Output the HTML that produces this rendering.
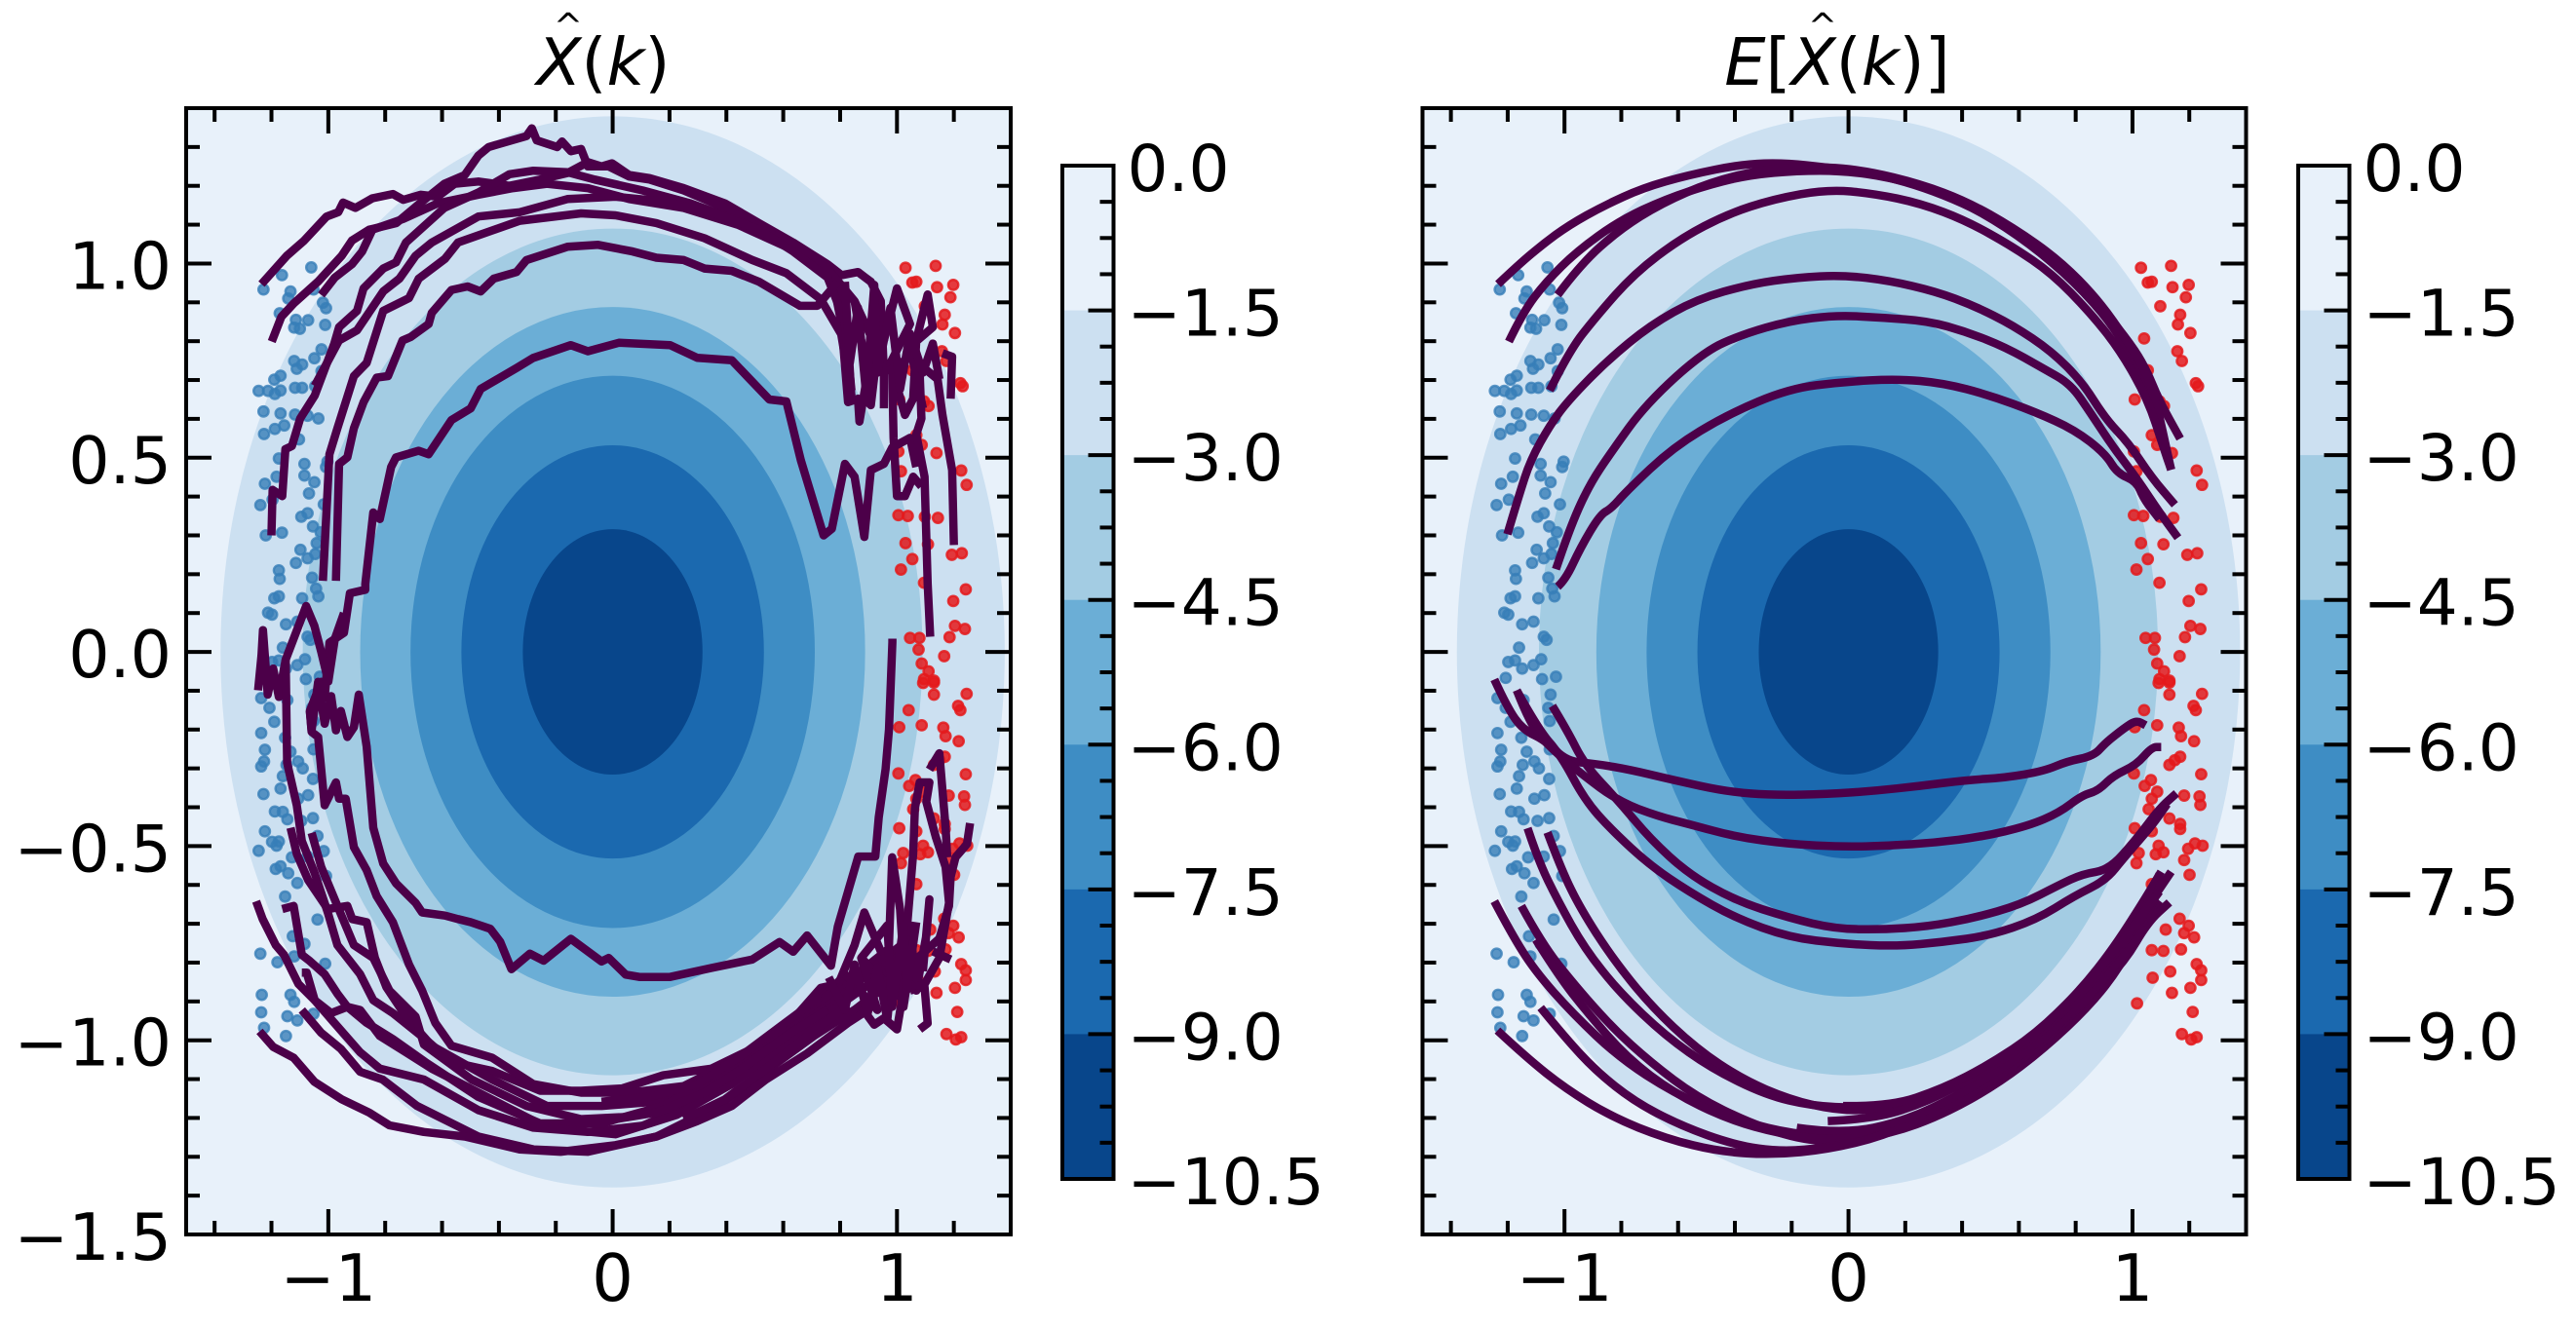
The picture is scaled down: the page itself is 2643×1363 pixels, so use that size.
<!DOCTYPE html>
<html lang="en">
<head>
<meta charset="utf-8">
<title>X̂(k) and E[X̂(k)] contour panels</title>
<style>
html,body{margin:0;padding:0;background:#fff;}
svg{display:block;}
text{font-family:"DejaVu Sans","Liberation Sans",sans-serif;fill:#000;}
</style>
</head>
<body>
<svg id="chart" xmlns="http://www.w3.org/2000/svg" width="2643" height="1363" viewBox="0 0 2643 1363">
  <rect x="0" y="0" width="2643" height="1363" fill="#fff"/>
  <g id="panel-left"></g>
  <g id="panel-right"></g>
  <text x="619" y="87" font-size="67" text-anchor="middle"><tspan font-style="italic">X</tspan>(<tspan font-style="italic">k</tspan>)</text>
  <text x="583" y="39" font-size="36" text-anchor="middle">^</text>
  <text x="1885" y="87" font-size="67" text-anchor="middle"><tspan font-style="italic">E</tspan>[<tspan font-style="italic">X</tspan>(<tspan font-style="italic">k</tspan>)]</text>
  <text x="1870" y="39" font-size="36" text-anchor="middle">^</text>
</svg>
<script>
// ---- axis and colour data ----
const xTickValues = [-1, 0, 1];
const xTickLabels = ['\u22121', '0', '1'];
const yTickValues = [-1.5, -1, -0.5, 0, 0.5, 1];
const yTickLabels = ['\u22121.5', '\u22121.0', '\u22120.5', '0.0', '0.5', '1.0'];
const colorbarLevels = [0, -1.5, -3, -4.5, -6, -7.5, -9, -10.5];
const colorbarLabels = ['0.0', '\u22121.5', '\u22123.0', '\u22124.5', '\u22126.0', '\u22127.5', '\u22129.0', '\u221210.5'];
const levelColors = ['#e8f1fa', '#cce0f1', '#a3cce3', '#6baed6', '#3e8dc4', '#1b69af', '#08468b'];
const contourRadii = [1.379, 1.09, 0.888, 0.711, 0.532, 0.316];

// ---- scatter data ----
const bluePoints = [[-1.06,.99],[-1.163,.97],[-1.228,.933],[-1.133,.928],[-1.141,.91],[-1.052,.933],[-1.019,.899],[-1.008,.885],[-1.171,.872],[-1.071,.854],[-1.114,.855],[-1.12,.835],[-1.1,.832],[-1.011,.842],[-1.024,.779],[-1.12,.749],[-1.049,.756],[-1.092,.74],[-1.111,.729],[-1.024,.723],[-1.168,.711],[-1.19,.701],[-1.245,.672],[-1.212,.672],[-1.168,.673],[-1.188,.664],[-1.117,.68],[-1.092,.68],[-1.046,.684],[-1.228,.619],[-1.168,.614],[-1.117,.611],[-1.073,.608],[-1.035,.601],[-1.155,.583],[-1.188,.574],[-1.226,.561],[-1.103,.547],[-1.174,.498],[-1.084,.484],[-1.003,.49],[-1.008,.476],[-1.182,.451],[-1.084,.454],[-1.049,.437],[-1.223,.433],[-1.068,.408],[-1.196,.392],[-1.239,.378],[-1.016,.38],[-1.073,.357],[-1.095,.348],[-1.054,.323],[-1.027,.308],[-1.22,.3],[-1.163,.307],[-1.041,.28],[-1.098,.263],[-1.046,.252],[-1.073,.241],[-1.114,.229],[-1.174,.21],[-1.171,.188],[-1.057,.191],[-1.043,.163],[-1.174,.143],[-1.19,.138],[-1.092,.138],[-1.035,.143],[-1.212,.101],[-1.198,.096],[-1.109,.078],[-1.149,.071],[-1.073,.039],[-1.063,.031],[-1.16,.011],[-1.082,-.019],[-1.174,-.022],[-1.198,-.026],[-1.109,-.034],[-1.149,-.043],[-1.03,-.064],[-1.207,-.067],[-1.079,-.07],[-1.144,-.124],[-1.049,-.11],[-1.236,-.119],[-1.207,-.144],[-1.057,-.144],[-1.19,-.18],[-1.052,-.178],[-1.236,-.209],[-1.152,-.221],[-1.223,-.252],[-1.133,-.257],[-1.052,-.251],[-1.106,-.282],[-1.147,-.291],[-1.236,-.295],[-1.226,-.282],[-1.09,-.3],[-1.054,-.327],[-1.16,-.32],[-1.168,-.352],[-1.228,-.366],[-1.071,-.369],[-1.106,-.378],[-1.188,-.411],[-1.16,-.412],[-1.144,-.431],[-1.095,-.435],[-1.054,-.428],[-1.223,-.462],[-1.038,-.474],[-1.198,-.489],[-1.174,-.488],[-1.182,-.499],[-1.245,-.512],[-1.016,-.513],[-1.073,-.527],[-1.128,-.529],[-1.185,-.559],[-1.168,-.552],[-1.141,-.57],[-1.109,-.595],[-1.008,-.577],[-1.152,-.63],[-1.038,-.689],[-1.125,-.732],[-1.084,-.752],[-1.12,-.784],[-1.239,-.777],[-1.179,-.799],[-1.011,-.803],[-1.234,-.883],[-1.133,-.883],[-1.12,-.901],[-1.236,-.928],[-1.144,-.938],[-1.109,-.949],[-1.052,-.932],[-1.226,-.968],[-1.149,-.989]];
const redPoints = [[1.03,.989],[1.136,.994],[1.068,.953],[1.054,.951],[1.141,.939],[1.198,.945],[1.188,.913],[1.098,.89],[1.168,.868],[1.16,.843],[1.204,.821],[1.041,.807],[1.158,.774],[1.174,.749],[1.054,.725],[1.223,.692],[1.231,.684],[1.008,.65],[1.095,.645],[1.111,.633],[1.068,.558],[1.139,.512],[1.087,.533],[1.226,.467],[1.245,.43],[1.005,.516],[1.014,.465],[1.005,.352],[1.038,.35],[1.098,.348],[1.144,.345],[1.03,.28],[1.109,.277],[1.054,.239],[1.014,.212],[1.193,.25],[1.228,.254],[1.095,.178],[1.242,.161],[1.198,.131],[1.204,.067],[1.239,.059],[1.046,.036],[1.079,.036],[1.185,.038],[1.076,.006],[1.166,-.011],[1.087,-.03],[1.111,-.05],[1.095,-.07],[1.13,-.074],[1.092,-.08],[1.13,-.079],[1.245,-.108],[1.13,-.11],[1.215,-.139],[1.223,-.15],[1.041,-.15],[1.163,-.195],[1.087,-.189],[1.008,-.194],[1.171,-.217],[1.217,-.23],[1.168,-.27],[1.149,-.279],[1.13,-.291],[1.242,-.315],[1.005,-.313],[1.065,-.33],[1.043,-.345],[1.087,-.36],[1.236,-.372],[1.182,-.37],[1.239,-.394],[1.057,-.405],[1.068,-.378],[1.13,-.429],[1.008,-.454],[1.168,-.443],[1.168,-.456],[1.068,-.462],[1.092,-.499],[1.22,-.493],[1.247,-.499],[1.196,-.507],[1.022,-.518],[1.082,-.521],[1.109,-.516],[1.014,-.544],[1.182,-.536],[1.201,-.574],[1.068,-.598],[1.166,-.687],[1.198,-.705],[1.117,-.715],[1.182,-.724],[1.217,-.735],[1.068,-.768],[1.109,-.77],[1.171,-.766],[1.226,-.804],[1.242,-.82],[1.242,-.845],[1.071,-.839],[1.133,-.823],[1.204,-.865],[1.139,-.878],[1.016,-.905],[1.212,-.927],[1.174,-.984],[1.226,-.992],[1.207,-.998]];

// ---- left panel trajectories ----
const leftUpperA = [[-1.235,.947],[-1.146,1.02],[-1.085,1.059],[-1.006,1.121],[-.965,1.132],[-.948,1.157],[-.905,1.143],[-.845,1.168],[-.773,1.179],[-.736,1.164],[-.676,1.177],[-.616,1.172],[-.556,1.205],[-.472,1.211],[-.363,1.2],[-.255,1.216],[-.159,1.233],[-.087,1.261],[-.039,1.25],[-.002,1.258],[.058,1.228],[.13,1.22],[.25,1.194],[.395,1.155],[.515,1.104],[.635,1.054],[.756,.998],[.805,.97],[.863,.978],[.908,.953],[.943,.903],[.954,.719],[.954,.627]];
const leftUpperB = [[-1.199,.799],[-1.165,.863],[-1.122,.897],[-1.037,.953],[-.953,1.02],[-.917,1.059],[-.857,1.087],[-.761,1.104],[-.688,1.149],[-.592,1.205],[-.52,1.228],[-.472,1.278],[-.436,1.3],[-.303,1.328],[-.284,1.348],[-.267,1.317],[-.195,1.3],[-.178,1.314],[-.147,1.289],[-.111,1.295],[-.087,1.25],[-.014,1.25],[.058,1.224],[.13,1.216],[.25,1.188],[.395,1.143],[.515,1.093],[.659,1.031],[.768,.981],[.805,.844],[.828,.643],[.863,.652],[.868,.593],[.897,.719],[.874,.802],[.851,.903]];
const leftUpperC = [[-1.025,.919],[-.977,.964],[-.917,.998],[-.881,1.031],[-.845,1.087],[-.736,1.115],[-.616,1.155],[-.472,1.177],[-.351,1.194],[-.231,1.205],[-.087,1.194],[.058,1.166],[.25,1.143],[.443,1.099],[.611,1.043],[.756,.987],[.851,.903],[.931,.777],[.908,.635],[.885,.652]];
const leftUpperD = [[-1.2,.3],[-1.196,.417],[-1.162,.401],[-1.151,.522],[-1.128,.53],[-1.099,.601],[-1.048,.66],[-.979,.794],[-.962,.836],[-.899,.878],[-.876,.936],[-.807,.987],[-.762,1.003],[-.727,1.054],[-.592,1.143],[-.472,1.183],[-.363,1.23],[-.279,1.239],[-.159,1.235],[-.063,1.216],[.106,1.188],[.274,1.155],[.443,1.11],[.611,1.059],[.732,1.009],[.804,.942],[.828,.807],[.84,.65]];
const leftUpperE = [[-1.019,.183],[-.996,.509],[-.968,.576],[-.91,.71],[-.865,.744],[-.807,.878],[-.716,.911],[-.682,.961],[-.59,1.012],[-.544,1.054],[-.327,1.11],[-.111,1.129],[.01,1.124],[.154,1.104],[.323,1.065],[.491,1.009],[.611,.975],[.732,.908],[.804,.818],[.84,.66]];
const leftUpperF = [[-1.048,.685],[-.962,.802],[-.899,.828],[-.807,.928],[-.75,.961],[-.693,1.02],[-.636,1.054],[-.472,1.121],[-.327,1.132],[-.159,1.166],[.01,1.172],[.178,1.16],[.347,1.132],[.515,1.087],[.635,1.031],[.756,.964],[.816,.852],[.84,.673]];
const leftUpperG = [[-.973,.183],[-.962,.484],[-.933,.501],[-.91,.576],[-.876,.643],[-.83,.706],[-.79,.71],[-.739,.802],[-.71,.811],[-.647,.844],[-.636,.873],[-.567,.932],[-.51,.941],[-.464,.928],[-.418,.961],[-.338,.978],[-.303,1.009],[-.159,1.043],[-.051,1.048],[.07,1.031],[.154,1.015],[.25,1.009],[.323,.987],[.419,.981],[.515,.953],[.659,.891],[.72,.891],[.792,.953]];
const leftUpperH = [[-1.059,-.202],[-1.065,-.152],[-1.025,-.077],[-1.013,-.118],[-.996,.024],[-.945,.049],[-.924,.151],[-.87,.16],[-.87,.175],[-.842,.359],[-.819,.342],[-.779,.476],[-.762,.501],[-.682,.518],[-.647,.509],[-.567,.597],[-.499,.627],[-.464,.677],[-.338,.731],[-.279,.757],[-.147,.79],[-.087,.774],[.022,.796],[.202,.79],[.298,.757],[.419,.751],[.551,.65],[.611,.645],[.662,.493],[.742,.3],[.771,.317],[.817,.484],[.851,.451],[.885,.296],[.908,.468],[.954,.484],[.983,.526],[1.046,.551],[1.068,.476]];
const leftTailA = [[.954,.802],[1.0,.936],[1.046,.844],[.977,.744],[1.028,.61],[1.057,.652],[1.068,.802],[1.108,.92],[1.126,.836],[1.046,.786],[1.091,.627]];
const leftTailB = [[.983,.719],[.988,.551],[1.0,.401],[1.028,.401],[1.057,.451],[1.086,.426]];
const leftTailC = [[1.16,.769],[1.194,.76],[1.189,.652]];
const leftTailD = [[.965,.719],[1.046,.76],[1.143,.702],[1.16,.61],[1.194,.468],[1.2,.275]];
const leftTailE = [[1.08,.719],[1.086,.601],[1.068,.56],[1.097,.451],[1.108,.175],[1.117,.039]];
const leftTailF = [[.817,.953],[.834,.744],[.863,.886],[.891,.668],[.92,.945],[.931,.719],[.977,.886],[1.011,.677],[1.046,.819],[1.091,.719],[1.126,.794],[1.149,.702]];
const leftLoopA = [[-1.247,-.099],[-1.235,-.009],[-1.23,.056],[-1.213,-.11],[-1.194,-.043],[-1.174,-.116],[-1.15,-.02],[-1.122,.034],[-1.078,.118],[-1.049,.067],[-1.025,0],[-1.0,-.076],[-.977,.034],[-.945,.1]];
const leftLowerA = [[-1.15,-.02],[-1.145,-.286],[-1.111,-.395],[-1.093,-.487],[-1.048,-.57],[-1.002,-.671],[-.968,-.755],[-.888,-.83],[-.842,-.897],[-.773,-.93],[-.659,-.997],[-.567,-1.056],[-.424,-1.079],[-.255,-1.13],[-.111,-1.13],[.034,-1.124],[.178,-1.09],[.347,-1.073],[.491,-1.022],[.611,-.966],[.732,-.865],[.876,-.842],[.972,-.786]];
const leftLowerB = [[-1.065,-.152],[-1.059,-.206],[-1.036,-.219],[-1.013,-.395],[-.973,-.336],[-.962,-.378],[-.939,-.378],[-.91,-.503],[-.865,-.562],[-.83,-.629],[-.773,-.696],[-.716,-.805],[-.67,-.872],[-.624,-.955],[-.567,-1.014],[-.424,-1.045],[-.279,-1.113],[-.111,-1.135],[.058,-1.135],[.25,-1.118],[.419,-1.056],[.563,-.989],[.708,-.91],[.804,-.842],[.996,-.82]];
const leftInner = [[-1.059,-.202],[-1.036,-.077],[-1.013,-.185],[-.99,-.114],[-.973,-.202],[-.956,-.152],[-.933,-.219],[-.91,-.194],[-.893,-.11],[-.865,-.244],[-.842,-.453],[-.807,-.545],[-.762,-.596],[-.693,-.646],[-.67,-.671],[-.59,-.679],[-.544,-.688],[-.499,-.696],[-.43,-.713],[-.396,-.746],[-.356,-.817],[-.291,-.777],[-.243,-.795],[-.147,-.739],[-.039,-.797],[-.014,-.788],[.046,-.831],[.094,-.837],[.202,-.837],[.347,-.814],[.491,-.792],[.587,-.747],[.635,-.772],[.684,-.73],[.768,-.808],[.792,-.707],[.864,-.527],[.924,-.527],[.936,-.426],[.96,-.302],[.972,-.2],[.984,.025],[.984,.034]];
const leftLowerC = [[-1.133,-.453],[-1.111,-.52],[-1.071,-.587],[-1.002,-.662],[-.933,-.654],[-.916,-.688],[-.865,-.696],[-.836,-.788],[-.796,-.863],[-.727,-.939],[-.636,-1.014],[-.424,-1.101],[-.231,-1.169],[-.039,-1.169],[.154,-1.158],[.347,-1.101],[.515,-1.022],[.659,-.944],[.78,-.876],[.972,-.764]];
const leftLowerD = [[-1.059,-.466],[-1.025,-.554],[-.968,-.654],[-.91,-.755],[-.842,-.788],[-.785,-.872],[-.693,-.939],[-.664,-1.011],[-.496,-1.101],[-.303,-1.169],[-.111,-1.203],[.058,-1.197],[.25,-1.158],[.419,-1.09],[.563,-1.0],[.708,-.921],[.828,-.865],[1.02,-.752]];
const leftLowerE = [[-1.254,-.642],[-1.231,-.688],[-1.185,-.755],[-1.156,-.78],[-1.105,-.855],[-1.048,-.897],[-.979,-.955],[-.888,-1.031],[-.819,-1.073],[-.664,-1.101],[-.472,-1.18],[-.279,-1.225],[-.087,-1.236],[.106,-1.22],[.298,-1.158],[.443,-1.09],[.611,-.989],[.732,-.932],[.876,-.865]];
const leftLowerF = [[-1.162,-.662],[-1.122,-.654],[-1.093,-.78],[-1.065,-.796],[-1.013,-.83],[-.968,-.88],[-.933,-.914],[-.865,-.955],[-.773,-.997],[-.659,-1.056],[-.472,-1.146],[-.255,-1.214],[-.039,-1.214],[.178,-1.169],[.371,-1.09],[.539,-1.0],[.708,-.91],[.876,-.82]];
const leftLowerG = [[-1.093,-.826],[-1.076,-.826],[-1.048,-.897],[-.99,-.93],[-.933,-.914],[-.888,-.922],[-.819,-.989],[-.727,-1.031],[-.636,-1.073],[-.231,-1.225],[.01,-1.242],[.226,-1.192],[.419,-1.113],[.587,-1.022],[.732,-.944],[.948,-.831]];
const leftLowerH = [[-1.093,-.922],[-1.025,-.981],[-.956,-1.022],[-.888,-1.081],[-.809,-1.101],[-.688,-1.169],[-.472,-1.248],[-.279,-1.281],[-.087,-1.287],[.154,-1.248],[.371,-1.169],[.539,-1.079],[.708,-.989],[.852,-.921],[.972,-.854]];
const leftLowerI = [[-1.242,-.977],[-1.194,-1.017],[-1.122,-1.045],[-1.049,-1.107],[-.953,-1.152],[-.857,-1.186],[-.785,-1.219],[-.664,-1.236],[-.52,-1.248],[-.327,-1.281],[-.183,-1.287],[.01,-1.27],[.154,-1.248],[.298,-1.208],[.419,-1.169],[.539,-1.101],[.684,-1.034],[.828,-.955],[.9,-.921]];
const leftBandA = [[.01,-1.203],[.154,-1.186],[.323,-1.135],[.467,-1.068],[.611,-.989],[.756,-.921]];
const leftBandB = [[-.039,-1.158],[.13,-1.146],[.298,-1.113],[.443,-1.045],[.587,-.966],[.732,-.887]];
const leftBandC = [[.25,-1.203],[.395,-1.152],[.539,-1.073],[.684,-.989],[.828,-.91]];
const leftTangleA = [[.794,-.855],[.851,-.755],[.885,-.671],[.943,-.771],[.966,-.872],[.983,-.529],[1.011,-.663],[1.028,-.855],[1.046,-.704],[1.068,-.872],[1.103,-.73],[1.114,-.637],[1.091,-.822]];
const leftTangleB = [[1.046,-.872],[1.091,-.863],[1.149,-.788],[1.183,-.646],[1.171,-.554],[1.137,-.478],[1.103,-.386],[1.114,-.336],[1.08,-.336],[1.063,-.403],[1.057,-.52],[1.034,-.721],[1.011,-.872]];
const leftTangleC = [[1.114,-.303],[1.149,-.261],[1.171,-.453],[1.177,-.529]];
const leftTangleD = [[1.257,-.441],[1.246,-.495],[1.206,-.529],[1.189,-.579],[1.183,-.654],[1.149,-.738],[1.046,-.805]];
const leftTangleE = [[1.046,-.855],[1.097,-.863],[1.108,-.956],[1.08,-.972]];
const leftTangleF = [[.874,-.914],[.92,-.96],[.954,-.943],[1.0,-.972],[1.023,-.872]];
const leftTangleG = [[1.189,-.792],[1.126,-.771]];
const leftTangleH = [[.817,-.83],[.931,-.922],[.874,-.788],[1.023,-.897],[.954,-.788],[1.057,-.863]];
const leftTangleI = [[.76,-.838],[.817,-.922],[.851,-.805],[.897,-.93],[.931,-.813],[.966,-.947],[.988,-.788],[1.023,-.914],[1.057,-.746]];
const leftTangleJ = [[.874,-.788],[.966,-.704],[.983,-.914],[1.023,-.704],[1.034,-.872],[1.068,-.696]];
const leftSeries = [leftUpperA,leftUpperB,leftUpperC,leftUpperD,leftUpperE,leftUpperF,leftUpperG,leftUpperH,leftTailA,leftTailB,leftTailC,leftTailD,leftTailE,leftTailF,leftLoopA,leftLowerA,leftLowerB,leftInner,leftLowerC,leftLowerD,leftLowerE,leftLowerF,leftLowerG,leftLowerH,leftLowerI,leftBandA,leftBandB,leftBandC,leftTangleA,leftTangleB,leftTangleC,leftTangleD,leftTangleE,leftTangleF,leftTangleG,leftTangleH,leftTangleI,leftTangleJ];

// ---- right panel trajectories ----
const rightUpperA = [[-1.234,.947],[-1.16,.998],[-1.079,1.048],[-.984,1.099],[-.861,1.149],[-.726,1.194],[-.563,1.228],[-.372,1.256],[-.223,1.259],[-.073,1.247],[.063,1.235],[.198,1.211],[.334,1.177],[.47,1.132],[.606,1.071],[.742,.992],[.878,.897],[.973,.813],[1.041,.74],[1.095,.645],[1.168,.549]];
const rightUpperB = [[-1.196,.799],[-1.147,.874],[-1.065,.953],[-.957,1.031],[-.807,1.11],[-.644,1.166],[-.481,1.205],[-.345,1.228],[-.182,1.239],[-.019,1.239],[.144,1.222],[.307,1.188],[.47,1.132],[.633,1.054],[.796,.953],[.932,.841],[1.027,.717],[1.082,.617],[1.136,.469]];
const rightUpperC = [[-1.024,.919],[-.943,.998],[-.807,1.087],[-.658,1.155],[-.481,1.211],[-.291,1.244],[-.101,1.25],[.063,1.239],[.253,1.205],[.416,1.16],[.579,1.093],[.742,1.009],[.878,.908],[.986,.796],[1.068,.695],[1.136,.469]];
const rightUpperD = [[-1.052,.673],[-.984,.774],[-.889,.863],[-.753,.975],[-.59,1.065],[-.427,1.127],[-.264,1.166],[-.073,1.191],[.09,1.18],[.253,1.155],[.416,1.11],[.579,1.043],[.715,.975],[.851,.874],[.959,.774],[1.054,.65],[1.109,.527],[1.136,.469]];
const rightMidA = [[-1.201,.303],[-1.16,.404],[-1.12,.493],[-1.052,.583],[-.984,.65],[-.848,.751],[-.698,.841],[-.535,.908],[-.345,.947],[-.182,.964],[-.019,.97],[.144,.956],[.307,.928],[.443,.891],[.579,.841],[.715,.774],[.823,.695],[.905,.6],[.986,.538],[1.068,.448],[1.149,.379]];
const rightMidB = [[-1.03,.213],[-.984,.314],[-.916,.426],[-.834,.516],[-.712,.639],[-.508,.774],[-.372,.818],[-.209,.852],[-.046,.867],[.117,.861],[.28,.852],[.416,.824],[.552,.785],[.688,.729],[.783,.689],[.851,.617],[.932,.527],[1.014,.448],[1.095,.359],[1.16,.294]];
const rightMidC = [[-1.024,.168],[-.997,.185],[-.943,.269],[-.875,.353],[-.834,.37],[-.78,.415],[-.617,.527],[-.427,.611],[-.209,.678],[-.019,.695],[.171,.703],[.334,.692],[.497,.661],[.66,.617],[.796,.572],[.905,.51],[.946,.46],[1.014,.439],[1.041,.392],[1.095,.342]];
const rightMidD = [[-1.247,-.071],[-1.201,-.144],[-1.147,-.2],[-1.065,-.229],[-.992,-.282],[-.889,-.288],[-.766,-.304],[-.617,-.33],[-.427,-.36],[-.264,-.369],[-.073,-.366],[.09,-.358],[.253,-.345],[.416,-.33],[.552,-.324],[.688,-.307],[.769,-.282],[.864,-.268],[.905,-.234],[.973,-.195],[1.014,-.176],[1.046,-.189]];
const rightMidE = [[-1.168,-.099],[-1.12,-.189],[-1.052,-.245],[-.943,-.313],[-.807,-.386],[-.671,-.423],[-.563,-.443],[-.399,-.476],[-.209,-.495],[-.019,-.502],[.144,-.499],[.307,-.491],[.47,-.476],[.633,-.448],[.742,-.414],[.823,-.369],[.878,-.358],[.932,-.319],[1.014,-.291],[1.068,-.245],[1.101,-.245]];
const rightMidF = [[-1.043,-.139],[-.992,-.2],[-.929,-.291],[-.807,-.386],[-.698,-.482],[-.563,-.572],[-.399,-.64],[-.209,-.685],[-.046,-.713],[.117,-.715],[.28,-.707],[.443,-.685],[.606,-.651],[.742,-.6],[.823,-.572],[.918,-.561],[1.014,-.482],[1.095,-.403],[1.155,-.364]];
const rightMidG = [[-1.168,-.099],[-1.092,-.2],[-1.011,-.268],[-.929,-.381],[-.834,-.459],[-.698,-.55],[-.563,-.617],[-.399,-.685],[-.209,-.735],[-.019,-.752],[.171,-.758],[.334,-.747],[.497,-.73],[.66,-.69],[.796,-.628],[.905,-.589],[.973,-.527],[1.068,-.448],[1.122,-.392]];
const rightLowerA = [[-1.13,-.454],[-1.092,-.538],[-1.024,-.64],[-.929,-.764],[-.807,-.876],[-.644,-.989],[-.481,-1.073],[-.291,-1.141],[-.128,-1.169],[.035,-1.174],[.198,-1.163],[.361,-1.124],[.524,-1.062],[.688,-.966],[.823,-.865],[.932,-.764],[1.041,-.64],[1.101,-.566]];
const rightLowerB = [[-1.06,-.465],[-1.011,-.561],[-.943,-.662],[-.834,-.786],[-.698,-.91],[-.535,-1.022],[-.372,-1.101],[-.209,-1.152],[-.046,-1.18],[.09,-1.18],[.253,-1.158],[.443,-1.101],[.606,-1.022],[.755,-.932],[.878,-.831],[.973,-.741],[1.068,-.64],[1.136,-.566]];
const rightLowerC = [[-1.247,-.642],[-1.188,-.724],[-1.106,-.82],[-.97,-.932],[-.807,-1.045],[-.617,-1.135],[-.427,-1.197],[-.236,-1.236],[-.073,-1.248],[.09,-1.236],[.253,-1.203],[.443,-1.135],[.633,-1.045],[.796,-.944],[.905,-.831],[.986,-.741],[1.095,-.64]];
const rightLowerD = [[-1.152,-.654],[-1.079,-.752],[-.97,-.853],[-.834,-.966],[-.698,-1.056],[-.535,-1.146],[-.345,-1.214],[-.155,-1.259],[.008,-1.259],[.171,-1.225],[.334,-1.174],[.524,-1.096],[.701,-.994],[.851,-.887],[.973,-.797],[1.054,-.696],[1.13,-.645]];
const rightLowerE = [[-1.101,-.741],[-1.024,-.831],[-.916,-.932],[-.78,-1.045],[-.617,-1.135],[-.427,-1.203],[-.236,-1.242],[-.046,-1.259],[.144,-1.242],[.334,-1.191],[.524,-1.113],[.688,-1.022],[.851,-.91],[.959,-.808],[1.027,-.707],[1.068,-.617]];
const rightLowerF = [[-1.084,-.916],[-.997,-.994],[-.889,-1.079],[-.753,-1.158],[-.59,-1.22],[-.399,-1.27],[-.236,-1.287],[-.073,-1.276],[.09,-1.253],[.28,-1.197],[.47,-1.124],[.633,-1.039],[.796,-.932],[.932,-.82],[1.027,-.696],[1.095,-.572]];
const rightLowerG = [[-1.236,-.975],[-1.133,-1.045],[-.997,-1.124],[-.834,-1.197],[-.644,-1.253],[-.454,-1.287],[-.264,-1.295],[-.073,-1.281],[.117,-1.248],[.307,-1.186],[.497,-1.107],[.66,-1.022],[.823,-.91],[.946,-.797],[1.041,-.696],[1.109,-.583]];
const rightBandA = [[-.182,-1.225],[-.019,-1.242],[.198,-1.208],[.389,-1.141],[.579,-1.056],[.742,-.961],[.905,-.842],[1.041,-.707]];
const rightBandB = [[-.073,-1.208],[.09,-1.203],[.28,-1.158],[.47,-1.084],[.633,-1.006],[.783,-.91],[.932,-.786],[1.068,-.651]];
const rightBandC = [[-.019,-1.169],[.144,-1.171],[.334,-1.124],[.497,-1.062],[.66,-.983],[.81,-.876],[.946,-.764],[1.095,-.617]];
const rightSeries = [rightUpperA,rightUpperB,rightUpperC,rightUpperD,rightMidA,rightMidB,rightMidC,rightMidD,rightMidE,rightMidF,rightMidG,rightLowerA,rightLowerB,rightLowerC,rightLowerD,rightLowerE,rightLowerF,rightLowerG,rightBandA,rightBandB,rightBandC];

// ---- rendering ----
const SVG_NS = 'http://www.w3.org/2000/svg';
function make(parent, tag, attrs) {
  const node = document.createElementNS(SVG_NS, tag);
  for (const key in attrs) node.setAttribute(key, attrs[key]);
  parent.appendChild(node);
  return node;
}
const xMin = -1.5, xMax = 1.4, yMin = -1.5, yMax = 1.4;
const plotTop = 111, plotBottom = 1267;
const tickColor = '#000', lineColor = '#4c0049';

function linePath(line, sx, sy, smooth) {
  const pts = line.map(p => [sx(p[0]), sy(p[1])]);
  let d = 'M' + pts[0][0].toFixed(1) + ' ' + pts[0][1].toFixed(1);
  if (!smooth) {
    for (let i = 1; i < pts.length; i++) d += 'L' + pts[i][0].toFixed(1) + ' ' + pts[i][1].toFixed(1);
    return d;
  }
  for (let i = 1; i < pts.length - 1; i++) {
    const mx = (pts[i][0] + pts[i + 1][0]) / 2;
    const my = (pts[i][1] + pts[i + 1][1]) / 2;
    d += 'Q' + pts[i][0].toFixed(1) + ' ' + pts[i][1].toFixed(1) + ' ' + mx.toFixed(1) + ' ' + my.toFixed(1);
  }
  const last = pts[pts.length - 1];
  d += 'L' + last[0].toFixed(1) + ' ' + last[1].toFixed(1);
  return d;
}

function drawPanel(group, plotLeft, plotRight, barLeft, barRight, series, prefix, smooth) {
  const pxPerX = (plotRight - plotLeft) / (xMax - xMin);
  const pxPerY = (plotBottom - plotTop) / (yMax - yMin);
  const sx = v => plotLeft + (v - xMin) * pxPerX;
  const sy = v => plotBottom - (v - yMin) * pxPerY;
  let el;

  el = make(group, 'rect', {x: plotLeft, y: plotTop, width: plotRight - plotLeft, height: plotBottom - plotTop, fill: levelColors[0]});
  
  

  contourRadii.forEach((r, i) => {
    const c = make(group, 'ellipse', {cx: sx(0), cy: sy(0), rx: r * pxPerX, ry: r * pxPerY, fill: levelColors[i + 1]});
    
    
  });

  bluePoints.forEach(p => {
    const c = make(group, 'circle', {cx: sx(p[0]), cy: sy(p[1]), r: 5.2, fill: '#377eb8', 'fill-opacity': 0.8, stroke: '#377eb8', 'stroke-opacity': 0.8, 'stroke-width': 2.4});
    
    
  });
  redPoints.forEach(p => {
    const c = make(group, 'circle', {cx: sx(p[0]), cy: sy(p[1]), r: 5.2, fill: '#e41a1c', 'fill-opacity': 0.85, stroke: '#e41a1c', 'stroke-opacity': 0.85, 'stroke-width': 2.4});
    
    
  });

  series.forEach(line => {
    const path = make(group, 'path', {d: linePath(line, sx, sy, smooth), fill: 'none', stroke: lineColor, 'stroke-width': 8.5, 'stroke-linejoin': 'round', 'stroke-linecap': 'butt'});
    
    
  });

  // x ticks: minor every 0.2, major at listed values, mirrored on top and bottom
  for (let n = -7; n <= 6; n++) {
    const v = n * 0.2;
    const major = n % 5 === 0;
    const len = major ? 26 : 14;
    [[plotBottom, plotBottom - len], [plotTop, plotTop + len]].forEach(pair => {
      const t = make(group, 'line', {x1: sx(v), x2: sx(v), y1: pair[0], y2: pair[1], stroke: tickColor, 'stroke-width': 4});
      
      
    });
  }
  // y ticks: minor every 0.1, mirrored on left and right
  for (let n = -14; n <= 13; n++) {
    const v = n * 0.1;
    const major = n % 5 === 0;
    const len = major ? 26 : 14;
    [[plotLeft, plotLeft + len], [plotRight, plotRight - len]].forEach(pair => {
      const t = make(group, 'line', {x1: pair[0], x2: pair[1], y1: sy(v), y2: sy(v), stroke: tickColor, 'stroke-width': 4});
      
      
    });
  }

  el = make(group, 'rect', {x: plotLeft, y: plotTop, width: plotRight - plotLeft, height: plotBottom - plotTop, fill: 'none', stroke: '#000', 'stroke-width': 4});
  
  

  xTickValues.forEach((v, i) => {
    const t = make(group, 'text', {x: sx(v), y: 1335, 'font-size': 67, 'text-anchor': 'middle'});
    t.textContent = xTickLabels[i];
    
    
  });
  if (prefix === 'left') {
    yTickValues.forEach((v, i) => {
      const t = make(group, 'text', {x: 176, y: sy(v) + 26, 'font-size': 66.5, 'text-anchor': 'end'});
      t.textContent = yTickLabels[i];
      
      
    });
  }

  // colorbar
  const barTop = 170, barBottom = 1210;
  const sv = v => barTop + (0 - v) / 10.5 * (barBottom - barTop);
  levelColors.forEach((color, i) => {
    const r = make(group, 'rect', {x: barLeft, y: sv(colorbarLevels[i]), width: barRight - barLeft, height: sv(colorbarLevels[i + 1]) - sv(colorbarLevels[i]) + 0.5, fill: color});
    
    
  });
  for (let n = 0; n <= 28; n++) {
    const v = -n * 0.375;
    const len = n % 4 === 0 ? 26 : 14;
    const t = make(group, 'line', {x1: barRight, x2: barRight - len, y1: sv(v), y2: sv(v), stroke: tickColor, 'stroke-width': 4});
    
    
  }
  el = make(group, 'rect', {x: barLeft, y: barTop, width: barRight - barLeft, height: barBottom - barTop, fill: 'none', stroke: '#000', 'stroke-width': 4});
  
  
  colorbarLevels.forEach((v, i) => {
    const t = make(group, 'text', {x: barRight + 14, y: sv(v) + 26, 'font-size': 66, 'text-anchor': 'start'});
    t.textContent = colorbarLabels[i];
    
    
  });
}

drawPanel(document.getElementById('panel-left'), 191, 1037, 1090, 1142.5, leftSeries, 'left', false);
drawPanel(document.getElementById('panel-right'), 1459.5, 2304.5, 2358, 2410.5, rightSeries, 'right', true);
</script>
</body>
</html>
